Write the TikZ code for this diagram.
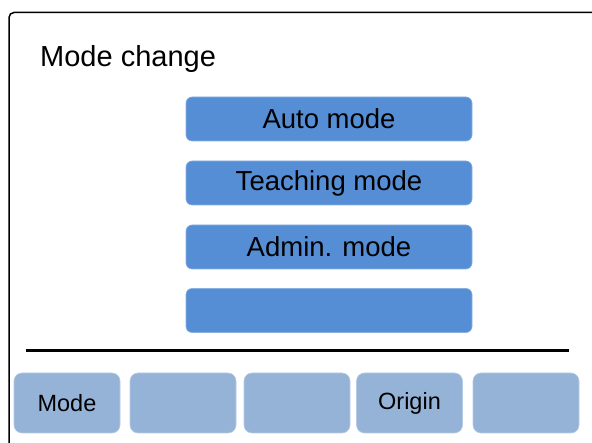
\documentclass[tikz,border=0pt]{standalone}
\usepackage{fontspec}
\setmainfont{Liberation Sans}
\definecolor{modeblue}{HTML}{558ED5}
\definecolor{keyblue}{HTML}{95B3D7}

\begin{document}
\begin{tikzpicture}[x=1pt,y=-1pt,
    modebox/.style={fill=modeblue,draw=modeblue!70!white,line width=0.6pt,rounded corners=6pt,
      minimum width=286pt,minimum height=44pt,inner sep=0pt,font=\fontsize{27.5}{32}\selectfont},
    softkey/.style={fill=keyblue,draw=keyblue!70!white,line width=0.6pt,rounded corners=8pt,
      minimum width=106pt,minimum height=60pt,inner sep=0pt,font=\fontsize{23.5}{28}\selectfont}]

    \clip (0,0) rectangle (592,443);

    % screen frame, runs off the right and bottom edge
    \coordinate (F1) at (9,470);
    \coordinate (F2) at (9,12.5);
    \coordinate (F3) at (620,12.5);
    \draw[line width=1.5pt,rounded corners=5pt] (F1) -- (F2) -- (F3);

    \node[anchor=base west,inner sep=0pt,font=\fontsize{29}{34}\selectfont] (title) at (40,67) {Mode change};

    \node[modebox] (auto) at (329,119) {Auto mode};
    \node[modebox] (teach) at (329,183) {Teaching mode};
    \node[modebox] (admin) at (329,247) {Admin. mode};
    \node[modebox] (empty) at (329,310.5) {};

    \coordinate (L1) at (26,351);
    \coordinate (L2) at (569,351);
    \draw[line width=3pt] (L1) -- (L2);

    \node[softkey] (K1) at (67,403) {Mode};
    \node[softkey] (K2) at (183,403) {};
    \node[softkey] (K3) at (297,403) {};
    \node[softkey] (K4) at (409.5,403) {Origin};
    \node[softkey] (K5) at (526,403) {};

  \end{tikzpicture}
\end{document}
